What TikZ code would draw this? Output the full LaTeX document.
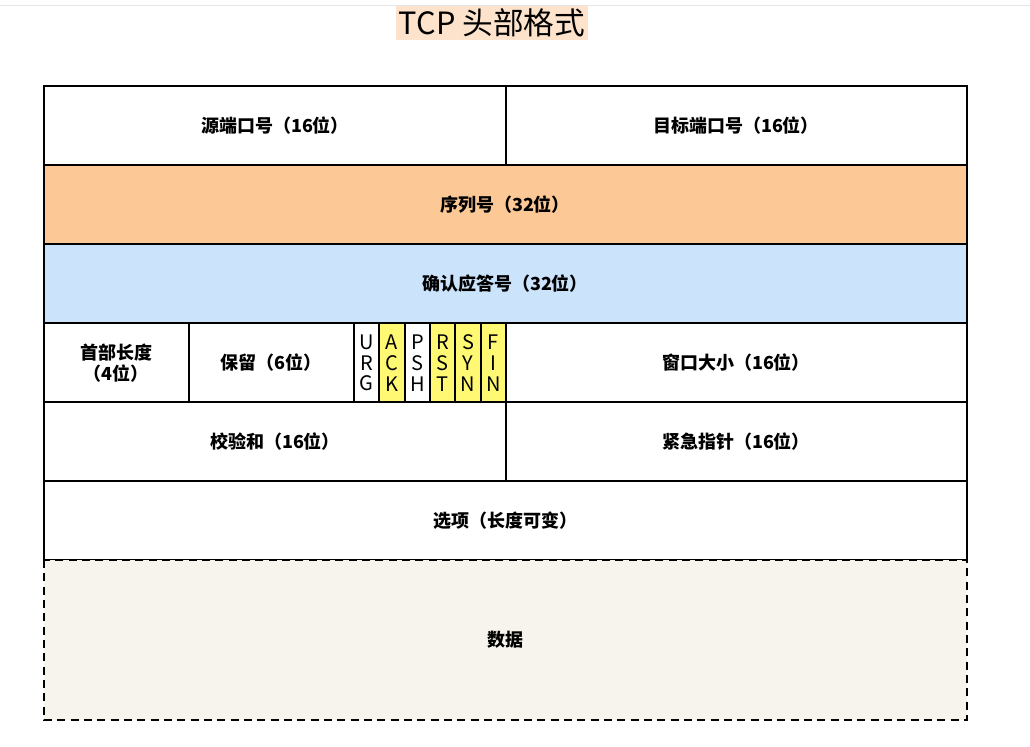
\documentclass[tikz,border=0pt]{standalone}
\usepackage{fontspec}
\setmainfont{Noto Sans CJK SC}
\newfontfamily\cjk{Noto Sans CJK SC}
\begin{document}
\begin{tikzpicture}[x=0.75pt,y=-0.75pt,
  cell/.style={draw=black,line width=1.3pt},
  lbl/.style={font=\cjk\bfseries\fontsize{13.5}{15.5}\selectfont,align=center},
  flg/.style={font=\cjk\fontsize{15}{15.5}\selectfont,align=center,inner sep=0pt}]
\useasboundingbox (0,0) rectangle (1030,746);
\fill[white] (0,0) rectangle (1030,746);
\draw[gray!20] (0,5) -- (1030,5);
\node[fill={rgb,255:red,253;green,227;blue,204},inner sep=2pt,font=\cjk\fontsize{23}{25}\selectfont] (title) at (492,23) {TCP 头部格式};
% row 1
\draw[cell] (44,86) rectangle (506,165);
\draw[cell] (506,86) rectangle (967,165);
\node[lbl] (src) at (275,126) {源端口号（16位）};
\node[lbl] (dst) at (736,126) {目标端口号（16位）};
% row 2
\draw[cell,fill={rgb,255:red,252;green,200;blue,150}] (44,165) rectangle (967,244);
\node[lbl] (seq) at (505,205) {序列号（32位）};
% row 3
\draw[cell,fill={rgb,255:red,203;green,227;blue,251}] (44,244) rectangle (967,323);
\node[lbl] (ack) at (505,284) {确认应答号（32位）};
% row 4
\draw[cell] (44,323) rectangle (189,402);
\draw[cell] (189,323) rectangle (354,402);
\draw[cell] (506,323) rectangle (967,402);
\node[lbl] (hl) at (116,363) {首部长度\\（4位）};
\node[lbl] (res) at (271,363) {保留（6位）};
\node[lbl] (win) at (736,363) {窗口大小（16位）};
\foreach \i/\t/\c in {0/U\\R\\G/white,1/A\\C\\K/yellow!55,2/P\\S\\H/white,3/R\\S\\T/yellow!55,4/S\\Y\\N/yellow!55,5/F\\I\\N/yellow!55}{
  \draw[cell,fill=\c] ({354+\i*25.33},323) rectangle ({354+(\i+1)*25.33},402);
  \node[flg] (f\i) at ({354+(\i+0.5)*25.33},363) {\t};
}
% row 5
\draw[cell] (44,402) rectangle (506,481);
\draw[cell] (506,402) rectangle (967,481);
\node[lbl] (chk) at (275,442) {校验和（16位）};
\node[lbl] (urg) at (736,442) {紧急指针（16位）};
% row 6
\draw[cell] (44,481) rectangle (967,560);
\node[lbl] (opt) at (505,521) {选项（长度可变）};
% data
\draw[line width=1.3pt,dash pattern=on 6pt off 4pt,fill={rgb,255:red,246;green,244;blue,236}] (44,560) rectangle (967,720);
\node[lbl] (data) at (505,640) {数据};
\end{tikzpicture}
\end{document}
